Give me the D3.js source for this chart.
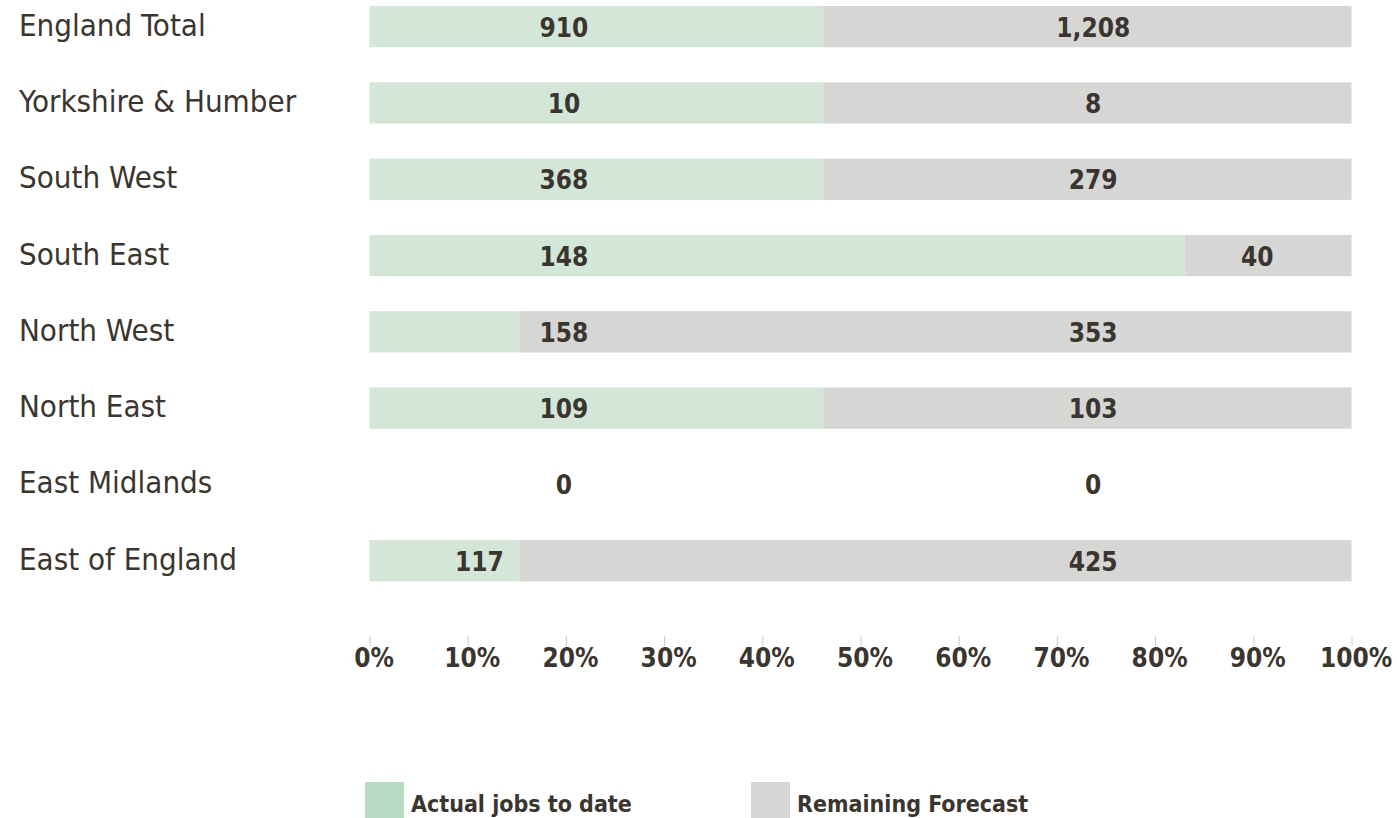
<!DOCTYPE html>
<html>
<head>
<meta charset="utf-8">
<script src="https://cdn.jsdelivr.net/npm/d3@7/dist/d3.min.js"></script>
<style>
  body { margin: 0; background: #fff; }
  text { font-family: "DejaVu Sans Condensed", "DejaVu Sans", sans-serif; font-stretch: condensed; fill: #3b3530; }
</style>
</head>
<body>
<script>
var regions = ["England Total", "Yorkshire & Humber", "South West", "South East",
  "North West", "North East", "East Midlands", "East of England"];
var actualJobs = [910, 10, 368, 148, 158, 109, 0, 117];
var remainingForecast = [1208, 8, 279, 40, 353, 103, 0, 425];
// green share of each bar as it is drawn in the picture (percent)
var actualShareDrawn = [46.2, 46.2, 46.2, 83.0, 15.3, 46.2, 0, 15.3];
// where the value labels sit along the percent axis
var actualLabelAt = [19.8, 19.8, 19.8, 19.8, 19.8, 19.8, 19.8, 11.2];
var remainingLabelAt = [73.7, 73.7, 73.7, 90.4, 73.7, 73.7, 73.7, 73.7];
var tickValues = [0, 10, 20, 30, 40, 50, 60, 70, 80, 90, 100];
var legendLabels = ["Actual jobs to date", "Remaining Forecast"];

var drawChart = function() {
  var screen = {width: 1397, height: 818};
  var svg = d3.select("body").append("svg")
    .attr("width", screen.width)
    .attr("height", screen.height);

  var xScale = d3.scaleLinear().domain([0, 100]).range([369.5, 1351.5]);
  var step = 76.3;
  var pad = 35 / 76.3;
  var yScale = d3.scaleBand().domain(regions)
    .range([6 - step * pad / 2, 6 - step * pad / 2 + step * regions.length])
    .paddingInner(pad).paddingOuter(pad / 2);
  var bw = yScale.bandwidth();
  var fmt = d3.format(",");

  var rows = regions.map(function(r, i) {
    return {region: r, actual: actualJobs[i], remaining: remainingForecast[i],
      share: actualShareDrawn[i], la: actualLabelAt[i], lb: remainingLabelAt[i]};
  });

  // region names
  svg.append("g").selectAll("text").data(rows).enter().append("text")
    .attr("x", 19)
    .attr("y", function(d) { return yScale(d.region) + bw / 2 + 9; })
    .style("font-size", "31px")
    .text(function(d) { return d.region; });

  var bars = rows.filter(function(d) { return d.actual + d.remaining > 0; });

  svg.append("g").selectAll("rect").data(bars).enter().append("rect")
    .attr("x", xScale(0))
    .attr("y", function(d) { return yScale(d.region); })
    .attr("width", function(d) { return xScale(d.share) - xScale(0); })
    .attr("height", bw)
    .style("fill", "#d3e6d8");

  svg.append("g").selectAll("rect").data(bars).enter().append("rect")
    .attr("x", function(d) { return xScale(d.share); })
    .attr("y", function(d) { return yScale(d.region); })
    .attr("width", function(d) { return xScale(100) - xScale(d.share); })
    .attr("height", bw)
    .style("fill", "#d6d6d5");

  var labels = svg.append("g").style("font-weight", "bold").style("font-size", "26px")
    .attr("text-anchor", "middle");
  labels.selectAll(".la").data(rows).enter().append("text")
    .attr("x", function(d) { return xScale(d.la); })
    .attr("y", function(d) { return yScale(d.region) + bw / 2 + 10; })
    .text(function(d) { return fmt(d.actual); });
  labels.selectAll(".lb").data(rows).enter().append("text")
    .attr("x", function(d) { return xScale(d.lb); })
    .attr("y", function(d) { return yScale(d.region) + bw / 2 + 10; })
    .text(function(d) { return fmt(d.remaining); });

  // percent axis
  var axis = d3.axisBottom(xScale).tickValues(tickValues).tickSize(10).tickPadding(12)
    .tickFormat(function(d) { return d + "%"; });
  var ax = svg.append("g").attr("transform", "translate(0,636)").call(axis);
  ax.select(".domain").remove();
  ax.selectAll("line").attr("stroke", "#c9c9d3");
  ax.selectAll("text").attr("dx", 4).attr("dy", 0).attr("y", 31)
    .style("font-size", "26px").style("font-weight", "bold").style("fill", "#3b3530");

  // legend
  var legendX = [365, 751];
  var legendColors = ["#b8dbc3", "#d6d6d5"];
  var lg = svg.append("g");
  legendLabels.forEach(function(l, i) {
    lg.append("rect").attr("x", legendX[i]).attr("y", 782).attr("width", 39).attr("height", 40)
      .style("fill", legendColors[i]);
    lg.append("text").attr("x", legendX[i] + 46).attr("y", 812)
      .style("font-size", "23px").style("font-weight", "bold").text(l);
  });
};

drawChart();
</script>
</body>
</html>
